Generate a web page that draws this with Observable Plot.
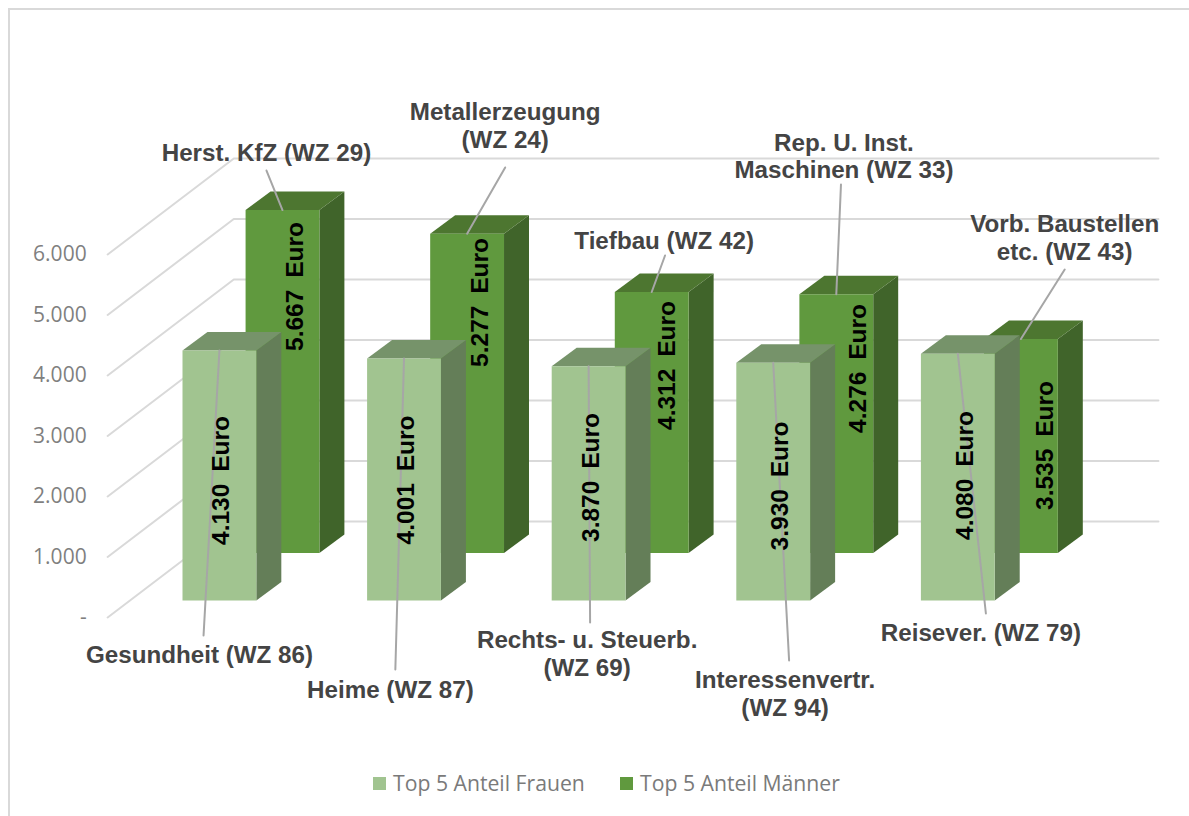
<!DOCTYPE html>
<html>
<head>
<meta charset="utf-8">
<script src="https://cdn.jsdelivr.net/npm/d3@7"></script>
<script src="https://cdn.jsdelivr.net/npm/@observablehq/plot@0.6"></script>
<style>
  html, body { margin: 0; padding: 0; background: #fff; overflow: hidden; }
  #frame { position: absolute; left: 8px; top: 8px; width: 1181px; height: 810px; border-top: 2px solid #d9d9d9; border-left: 2px solid #d9d9d9; box-sizing: border-box; pointer-events: none; }
  #chart { position: relative; width: 1189px; height: 760px; }
  #chart svg { display: block; }
  .vlabel text { word-spacing: 5px; }
  #legend { position: relative; height: 56px; width: 1189px; font: 21.2px "Open Sans", sans-serif; color: #7a7a7a; }
  #legend .item { position: absolute; top: 10px; display: flex; align-items: center; gap: 7px; line-height: 26px; white-space: nowrap; }
  #legend .sw { width: 13px; height: 13px; display: inline-block; }
</style>
</head>
<body>
<div id="frame"></div>
<div id="chart"></div>
<div id="legend"></div>
<script>
// --- data ---
const womenCategories = ["Gesundheit (WZ 86)", "Heime (WZ 87)", "Rechts- u. Steuerb.\n(WZ 69)", "Interessenvertr.\n(WZ 94)", "Reisever. (WZ 79)"];
const menCategories = ["Herst. KfZ (WZ 29)", "Metallerzeugung\n(WZ 24)", "Tiefbau (WZ 42)", "Rep. U. Inst.\nMaschinen (WZ 33)", "Vorb. Baustellen\netc. (WZ 43)"];
const womenValues = [4130, 4001, 3870, 3930, 4080];
const menValues = [5667, 5277, 4312, 4276, 3535];
const yTicks = [0, 1000, 2000, 3000, 4000, 5000, 6000];
const seriesNames = ["Top 5 Anteil Frauen", "Top 5 Anteil Männer"];

// --- colours ---
const womenColors = {front: "#a1c490", side: "#647e58", top: "#76936a"};
const menColors = {front: "#60993e", side: "#40642a", top: "#4d7630"};

// --- oblique projection: category unit u, value v, depth d (in bar depths) ---
const depthU = 0.1353, depthV = 306, barWidth = 0.4;
const menDepth = 2.57, menShift = -0.006, wallDepth = 4.27, frontDepth = -0.92;
const project = (u, v, d) => [u + d * depthU, v + d * depthV];

// --- annotation layout, in the same category / value units ---
const womenValueLabelAt = [[0.211, 1983], [1.212, 1992], [2.214, 2033], [3.237, 1893], [4.238, 2066]];
const menValueLabelAt = [[0.612, 5190], [1.613, 4926], [2.625, 3884], [3.659, 3835], [4.671, 2562]];
const womenNameAt = [[0.092, -893], [1.126, -1471], [2.192, -876], [3.264, -1537], [4.325, -529]];
const menNameAt = [[0.455, 7405], [1.748, 7851], [2.609, 5950], [3.583, 7355], [4.779, 6000]];
const womenLeaderEnd = [[0.114, -579], [1.153, -1140], [2.208, -364], [3.286, -992], [4.352, -215]];
const menLeaderEnd = [[0.455, 7107], [1.748, 7157], [2.614, 5702], [3.567, 6876], [4.779, 5471]];

// --- helpers ---
const fmt = v => d3.format(",")(v).replace(",", ".");
function faces(values, depth, shift) {
  const out = {front: [], side: [], top: []};
  values.forEach((v, i) => {
    const l = i + shift, r = i + shift + barWidth;
    const poly = (name, pts) => pts.forEach(p => {
      const [x, y] = project(...p);
      out[name].push({id: i, x, y});
    });
    poly("side", [[r, 0, depth], [r, 0, depth + 1], [r, v, depth + 1], [r, v, depth]]);
    poly("top", [[l, v, depth], [l, v, depth + 1], [r, v, depth + 1], [r, v, depth]]);
    poly("front", [[l, 0, depth], [l, v, depth], [r, v, depth], [r, 0, depth]]);
  });
  return out;
}
const barMarks = (values, depth, shift, colors) => {
  const f = faces(values, depth, shift);
  return ["side", "top", "front"].map(name =>
    Plot.line(f[name], {x: "x", y: "y", z: "id", fill: colors[name], stroke: "none"}));
};
const leaders = (values, depth, shift, ends) => values.flatMap((v, i) => {
  const [x, y] = project(i + shift + barWidth / 2, v, depth);
  return [{id: i, x, y}, {id: i, x: ends[i][0], y: ends[i][1]}];
});

// --- walls ---
const wallRight = 4.709, wallBackU = -0.30, wallFrontU = -0.281;
const gridRows = yTicks.flatMap(t => {
  const a = project(wallFrontU, t, frontDepth);
  const b = project(wallBackU, t, wallDepth);
  const c = project(wallRight, t, wallDepth);
  return [{t, x: a[0], y: a[1]}, {t, x: b[0], y: b[1]}, {t, x: c[0], y: c[1]}];
});
const axisRows = yTicks.map(t => {
  const [x, y] = project(wallFrontU, t, frontDepth);
  return {t, x, y, label: t === 0 ? "-" : fmt(t)};
});

const valueRows = (values, at) => values.map((v, i) => ({x: at[i][0], y: at[i][1], label: fmt(v) + " Euro"}));
const nameRows = (names, at) => names.map((n, i) => ({x: at[i][0], y: at[i][1], label: n}));

const labelFont = {fontFamily: "'Liberation Sans', Arial, sans-serif", fontWeight: "bold"};

const plot = Plot.plot({
  width: 1189, height: 760, margin: 0,
  x: {domain: [-0.9859, 5.4550], range: [0, 1189], axis: null},
  y: {domain: [-2645, 9917], range: [760, 0], axis: null},
  style: {background: "transparent", overflow: "visible"},
  marks: [
    Plot.line(gridRows, {x: "x", y: "y", z: "t", stroke: "#d9d9d9", strokeWidth: 2}),
    Plot.text(axisRows, {x: "x", y: "y", text: "label", dx: -21, textAnchor: "end", lineAnchor: "middle",
      fontFamily: "'Open Sans', sans-serif", fontSize: 21, fill: "#7f7f7f"}),
    ...barMarks(menValues, menDepth, menShift, menColors),
    ...barMarks(womenValues, 0, 0, womenColors),
    Plot.line(leaders(menValues, menDepth, menShift, menLeaderEnd), {x: "x", y: "y", z: "id", stroke: "#a6a6a6", strokeWidth: 2}),
    Plot.line(leaders(womenValues, 0, 0, womenLeaderEnd), {x: "x", y: "y", z: "id", stroke: "#a6a6a6", strokeWidth: 2}),
    Plot.text(valueRows(womenValues, womenValueLabelAt), {x: "x", y: "y", text: "label", rotate: -90, textAnchor: "middle", lineAnchor: "middle",
      fontSize: 24.5, fill: "#000", className: "vlabel", ...labelFont}),
    Plot.text(valueRows(menValues, menValueLabelAt), {x: "x", y: "y", text: "label", rotate: -90, textAnchor: "middle", lineAnchor: "middle",
      fontSize: 24.5, fill: "#000", className: "vlabel", ...labelFont}),
    Plot.text(nameRows(womenCategories, womenNameAt), {x: "x", y: "y", text: "label", textAnchor: "middle", lineAnchor: "middle",
      lineHeight: 1.15, fontSize: 24.2, fill: "#444444", ...labelFont}),
    Plot.text(nameRows(menCategories, menNameAt), {x: "x", y: "y", text: "label", textAnchor: "middle", lineAnchor: "middle",
      lineHeight: 1.15, fontSize: 24.2, fill: "#444444", ...labelFont})
  ]
});
document.getElementById("chart").appendChild(plot);

// --- legend ---
const legend = document.getElementById("legend");
[[seriesNames[0], womenColors.front, 373], [seriesNames[1], menColors.front, 620]].forEach(([name, color, left]) => {
  const item = document.createElement("div");
  item.className = "item";
  item.style.left = left + "px";
  item.innerHTML = `<span class="sw" style="background:${color}"></span><span>${name}</span>`;
  legend.appendChild(item);
});
</script>
</body>
</html>
